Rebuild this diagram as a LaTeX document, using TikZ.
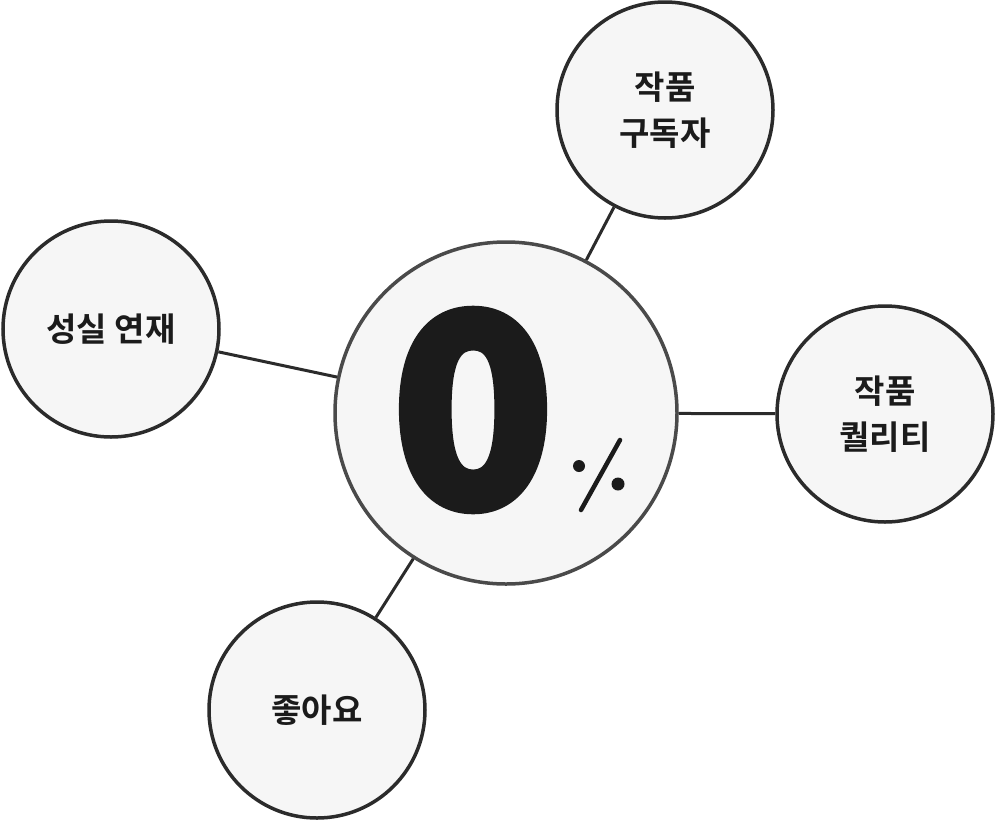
\documentclass[tikz,border=0pt]{standalone}
\usepackage{fontspec}
\newfontfamily\labelfont{Noto Sans CJK KR Bold}
\newfontfamily\bignumfont[FakeBold=3]{Noto Sans CJK KR Black}
\definecolor{bubble}{HTML}{F6F6F6}
\definecolor{ring}{HTML}{2B2B2B}
\definecolor{hubring}{HTML}{4A4A4A}
\definecolor{ink}{HTML}{1B1B1B}

\begin{document}
\begin{tikzpicture}[x=1pt,y=-1pt,thick]

		\tikzstyle{topic}=[shape=circle,draw=ring,fill=bubble,line width=3.5pt,minimum size=216pt,inner sep=0pt,align=center,text=ink,font=\labelfont\fontsize{33}{46}\selectfont]
		\tikzstyle{hub}=[shape=circle,draw=hubring,fill=bubble,line width=3.5pt,minimum size=342pt,inner sep=0pt]
		\tikzstyle{link}=[draw=ring,line width=3pt]

		\useasboundingbox[fill=white] (0,0) rectangle (996,820);

		\node[hub] (hub) at (506,413) {};
		\node[topic] (subs) at (665,110) {작품\\구독자};
		\node[topic] (steady) at (111,329) {성실 연재};
		\node[topic] (quality) at (885,414) {작품\\퀄리티};
		\node[topic] (likes) at (317,710) {좋아요};

		\path[link] (hub) edge (subs)
					(hub) edge (steady)
					(hub) edge (quality)
					(hub) edge (likes);

		% big number with a hand-drawn percent sign
		\node[inner sep=0pt,text=ink,font=\bignumfont\fontsize{266}{266}\selectfont] (zero) at (473,410) {0};
		\coordinate (slashtop) at (620,440);
		\coordinate (slashbot) at (581,510);
		\fill[ink] (579,466) circle (6pt);
		\fill[ink] (618,484) circle (6.5pt);
		\draw[ink,line width=4.5pt,line cap=round] (slashtop) -- (slashbot);

	\end{tikzpicture}
\end{document}
